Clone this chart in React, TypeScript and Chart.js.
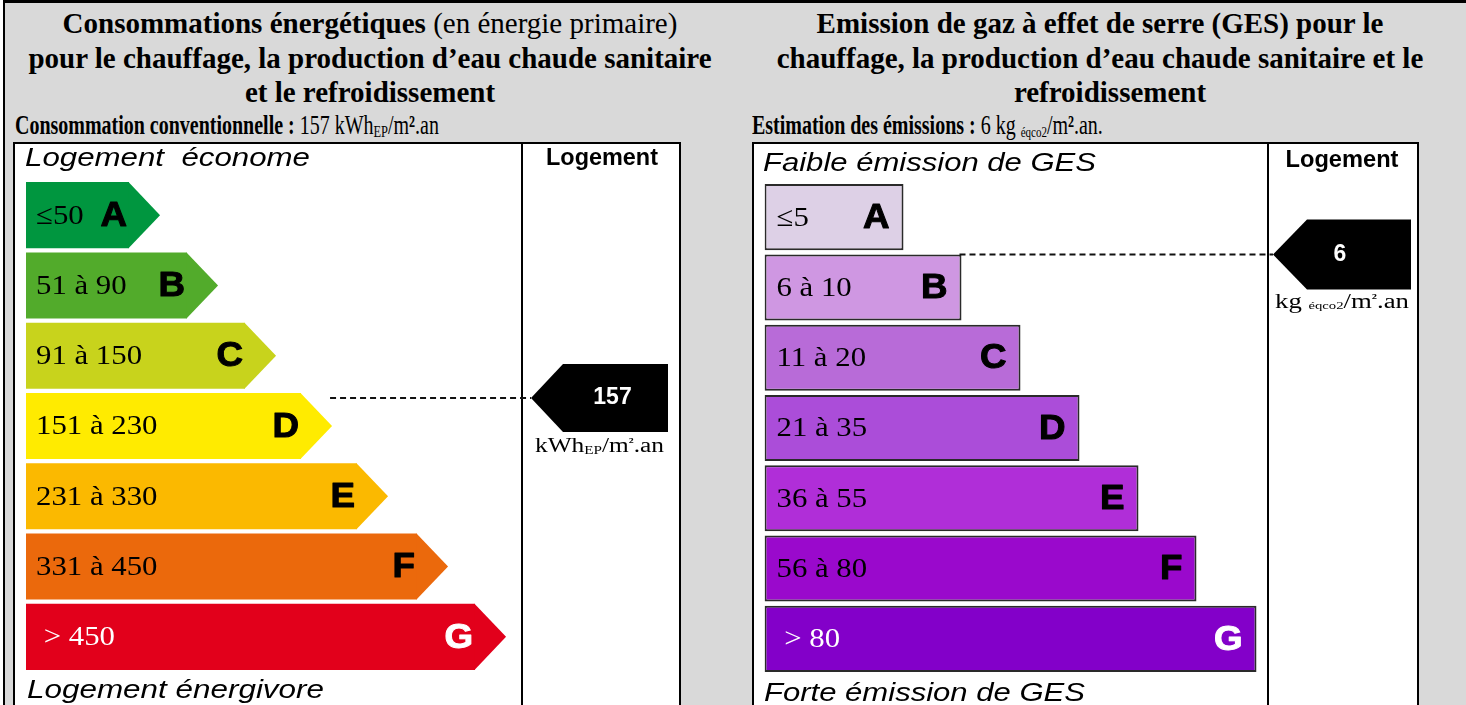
import React, { useEffect, useRef } from 'react';
import { Chart, registerables } from 'chart.js';

Chart.register(...registerables);

// ---------- DATA ----------
const energyClasses = ['A', 'B', 'C', 'D', 'E', 'F', 'G'];
const energyRangeLabels = ['≤50', '51 à 90', '91 à 150', '151 à 230', '231 à 330', '331 à 450', ' > 450'];
const energyLowerBounds = [0, 51, 91, 151, 231, 331, 451];
const energyUpperBounds = [50, 90, 150, 230, 330, 450, 1000];
const energyBarLengths = [103, 161, 219, 275, 331, 391, 449];
const energyColors = ['#00963f', '#52ab2b', '#c8d31c', '#ffeb00', '#fbb900', '#eb690c', '#e2001b'];
const energyValue = 157;

const gesClasses = ['A', 'B', 'C', 'D', 'E', 'F', 'G'];
const gesRangeLabels = ['≤5', '6 à 10', '11 à 20', '21 à 35', '36 à 55', '56 à 80', ' > 80'];
const gesLowerBounds = [0, 6, 11, 21, 36, 56, 81];
const gesUpperBounds = [5, 10, 20, 35, 55, 80, 1000];
const gesBarLengths = [139, 197, 256, 315, 374, 432, 492];
const gesColors = ['#ddd0e6', '#cf97e2', '#b86bd8', '#ab4dd9', '#b02ed8', '#9a09cc', '#8300c9'];
const gesValue = 6;

const textColors = ['#000', '#000', '#000', '#000', '#000', '#000', '#fff'];

// ---------- DRAW HELPERS ----------
type Seg = { t: string; font: string; dy?: number };

function drawSegs(
  ctx: CanvasRenderingContext2D,
  segs: Seg[],
  x: number,
  y: number,
  align: 'left' | 'center' | 'right',
  color: string,
  opts: { sx?: number; width?: number; stroke?: number }
) {
  ctx.save();
  ctx.textBaseline = 'middle';
  ctx.textAlign = 'left';
  let W = 0;
  const ws = segs.map((s) => {
    ctx.font = s.font;
    const w = ctx.measureText(s.t).width;
    W += w;
    return w;
  });
  const k = opts.width ? opts.width / W : opts.sx ?? 1;
  const total = W * k;
  const x0 = align === 'left' ? x : align === 'center' ? x - total / 2 : x - total;
  ctx.translate(x0, y);
  ctx.scale(k, 1);
  ctx.fillStyle = color;
  ctx.strokeStyle = color;
  let cx = 0;
  segs.forEach((s, i) => {
    ctx.font = s.font;
    ctx.fillText(s.t, cx, s.dy ?? 0);
    if (opts.stroke) {
      ctx.lineWidth = opts.stroke;
      ctx.lineJoin = 'round';
      ctx.strokeText(s.t, cx, s.dy ?? 0);
    }
    cx += ws[i];
  });
  ctx.restore();
}

type Panel = {
  id: string;
  classes: string[];
  rangeLabels: string[];
  lower: number[];
  upper: number[];
  lengths: number[];
  colors: string[];
  value: number;
  arrowTips: boolean;
  tipRatio: number;
  borderWidth: number;
  padding: { left: number; right: number; top: number; bottom: number };
  xMax: number;
  labelInset: number;
  letterInset: number;
  topHeader: { text: string; x: number; y: number; w: number };
  bottomHeader: { text: string; x: number; y: number; w: number };
  colHeader: { x: number; y: number; w: number };
  marker: { pointGap: number; tipLen: number; rightGap: number; halfH: number; textDx: number };
  valueText: string;
  unitSegs: Seg[];
  unitWidth: number;
  unitDy: number;
};

const SERIF = '"Liberation Serif", "Times New Roman", serif';
const SANS = '"Liberation Sans", Arial, sans-serif';

const energyPanel: Panel = {
  id: 'energy',
  classes: energyClasses,
  rangeLabels: energyRangeLabels,
  lower: energyLowerBounds,
  upper: energyUpperBounds,
  lengths: energyBarLengths,
  colors: energyColors,
  value: energyValue,
  arrowTips: true,
  tipRatio: 0.47,
  borderWidth: 0,
  padding: { left: 11, right: 157, top: 36, bottom: 33 },
  xMax: 496,
  labelInset: 10,
  letterInset: 2,
  topHeader: { text: 'Logement  économe', x: 10, y: 15, w: 285 },
  bottomHeader: { text: 'Logement énergivore', x: 12, y: 547, w: 297 },
  colHeader: { x: 587, y: 14, w: 112 },
  marker: { pointGap: 9, tipLen: 32, rightGap: 11, halfH: 34, textDx: 13 },
  valueText: String(energyValue),
  unitSegs: [
    { t: 'kWh', font: `20px ${SERIF}` },
    { t: 'EP', font: `12px ${SERIF}`, dy: 4 },
    { t: '/m', font: `20px ${SERIF}` },
    { t: '²', font: `bold 13px ${SERIF}`, dy: -4 },
    { t: '.an', font: `20px ${SERIF}` },
  ],
  unitWidth: 129,
  unitDy: 15,
};

const gesPanel: Panel = {
  id: 'ges',
  classes: gesClasses,
  rangeLabels: gesRangeLabels,
  lower: gesLowerBounds,
  upper: gesUpperBounds,
  lengths: gesBarLengths,
  colors: gesColors,
  value: gesValue,
  arrowTips: false,
  tipRatio: 0,
  borderWidth: 2,
  padding: { left: 10.5, right: 149, top: 38, bottom: 31 },
  xMax: 503.5,
  labelInset: 12,
  letterInset: 14,
  topHeader: { text: 'Faible émission de GES', x: 9, y: 20, w: 333 },
  bottomHeader: { text: 'Forte émission de GES', x: 10, y: 550, w: 321 },
  colHeader: { x: 588, y: 16, w: 113 },
  marker: { pointGap: 5, tipLen: 34, rightGap: 6, halfH: 35, textDx: -2 },
  valueText: String(gesValue),
  unitSegs: [
    { t: 'kg ', font: `20px ${SERIF}` },
    { t: 'éqco2', font: `11px ${SERIF}`, dy: 4 },
    { t: '/m', font: `20px ${SERIF}` },
    { t: '²', font: `bold 13px ${SERIF}`, dy: -4 },
    { t: '.an', font: `20px ${SERIF}` },
  ],
  unitWidth: 134,
  unitDy: 13,
};

function dpePlugin(p: Panel) {
  return {
    id: 'dpe-' + p.id,
    afterDatasetsDraw(chart: any) {
      const ctx: CanvasRenderingContext2D = chart.ctx;
      const meta = chart.getDatasetMeta(0);
      meta.data.forEach((bar: any, i: number) => {
        const { x, y, base, height } = bar.getProps(['x', 'y', 'base', 'height'], true);
        const top = y - height / 2;
        const bottom = y + height / 2;
        if (p.arrowTips) {
          ctx.save();
          ctx.fillStyle = p.colors[i];
          ctx.beginPath();
          ctx.moveTo(x - 0.5, top);
          ctx.lineTo(x + height * p.tipRatio, y);
          ctx.lineTo(x - 0.5, bottom);
          ctx.closePath();
          ctx.fill();
          ctx.restore();
        }
        drawSegs(ctx, [{ t: p.rangeLabels[i], font: `28px ${SERIF}` }], base + p.labelInset, y + 1, 'left', textColors[i], { sx: 1.1 });
        drawSegs(ctx, [{ t: p.classes[i], font: `bold 35px ${SANS}` }], x - p.letterInset, y + 1, 'right', textColors[i], { sx: 1.05, stroke: 1 });
      });
    },
    afterDraw(chart: any) {
      const ctx: CanvasRenderingContext2D = chart.ctx;
      const area = chart.chartArea;
      const W = chart.width;
      const H = chart.height;
      // divider
      ctx.save();
      ctx.strokeStyle = '#000';
      ctx.lineWidth = 2;
      ctx.beginPath();
      ctx.moveTo(area.right, 0);
      ctx.lineTo(area.right, H);
      ctx.stroke();
      ctx.restore();
      // headers
      drawSegs(ctx, [{ t: p.topHeader.text, font: `italic 25px ${SANS}` }], p.topHeader.x, p.topHeader.y, 'left', '#000', { width: p.topHeader.w });
      drawSegs(ctx, [{ t: p.bottomHeader.text, font: `italic 25px ${SANS}` }], p.bottomHeader.x, p.bottomHeader.y, 'left', '#000', { width: p.bottomHeader.w });
      drawSegs(ctx, [{ t: 'Logement', font: `bold 24px ${SANS}` }], p.colHeader.x, p.colHeader.y, 'center', '#000', { width: p.colHeader.w });
      // marker
      let k = p.lower.findIndex((lo, i) => p.value >= lo && p.value <= p.upper[i]);
      if (k < 0) k = p.classes.length - 1;
      const frac = (p.value - p.lower[k]) / (p.upper[k] - p.lower[k]);
      const bar = chart.getDatasetMeta(0).data[k];
      const { x, y, height } = bar.getProps(['x', 'y', 'height'], true);
      const my = y - height / 2 + frac * height;
      const lineStart = x + (p.arrowTips ? height * p.tipRatio : 0) - 2;
      const px = area.right + p.marker.pointGap;
      const bodyL = px + p.marker.tipLen;
      const bodyR = W - p.marker.rightGap;
      const hh = p.marker.halfH;
      ctx.save();
      ctx.strokeStyle = '#111';
      ctx.lineWidth = 2;
      ctx.setLineDash([6, 4]);
      ctx.beginPath();
      ctx.moveTo(lineStart, my);
      ctx.lineTo(px, my);
      ctx.stroke();
      ctx.setLineDash([]);
      ctx.fillStyle = '#000';
      ctx.beginPath();
      ctx.moveTo(px, my);
      ctx.lineTo(bodyL, my - hh);
      ctx.lineTo(bodyR, my - hh);
      ctx.lineTo(bodyR, my + hh);
      ctx.lineTo(bodyL, my + hh);
      ctx.closePath();
      ctx.fill();
      ctx.restore();
      const cx = (px + bodyR) / 2;
      drawSegs(ctx, [{ t: p.valueText, font: `bold 23px ${SANS}` }], cx + p.marker.textDx, my, 'center', '#fff', { sx: 1.0 });
      drawSegs(ctx, p.unitSegs, cx, my + hh + p.unitDy, 'center', '#000', { width: p.unitWidth });
    },
  };
}

function makeConfig(p: Panel): any {
  return {
    type: 'bar',
    data: {
      labels: p.classes,
      datasets: [
        {
          data: p.lengths,
          backgroundColor: p.colors,
          borderColor: '#2a2a2a',
          borderWidth: p.borderWidth,
          borderSkipped: false,
          barPercentage: 0.94,
          categoryPercentage: 1,
        },
      ],
    },
    options: {
      indexAxis: 'y',
      responsive: false,
      maintainAspectRatio: false,
      animation: false,
      layout: { padding: p.padding },
      scales: {
        x: { display: false, min: 0, max: p.xMax },
        y: { display: false },
      },
      plugins: {
        legend: { display: false },
        tooltip: { enabled: false },
      },
    },
    plugins: [dpePlugin(p)],
  };
}

const titleLine: React.CSSProperties = {
  position: 'absolute',
  fontSize: 29,
  lineHeight: '34px',
  textAlign: 'center',
  whiteSpace: 'nowrap',
  fontWeight: 'bold',
};

const infoLine: React.CSSProperties = {
  position: 'absolute',
  fontSize: 27,
  lineHeight: '30px',
  whiteSpace: 'nowrap',
  transform: 'scaleX(0.74)',
  transformOrigin: 'left center',
};

const sub: React.CSSProperties = { fontSize: '0.62em', verticalAlign: '-0.2em' };

export default function App() {
  const leftRef = useRef<HTMLCanvasElement>(null);
  const rightRef = useRef<HTMLCanvasElement>(null);

  useEffect(() => {
    const c1 = new Chart(leftRef.current!, makeConfig(energyPanel));
    const c2 = new Chart(rightRef.current!, makeConfig(gesPanel));
    return () => {
      c1.destroy();
      c2.destroy();
    };
  }, []);

  return (
    <div
      style={{
        position: 'absolute',
        left: 0,
        top: 0,
        width: 1466,
        height: 705,
        background: '#d9d9d9',
        overflow: 'hidden',
        fontFamily: SERIF,
        color: '#000',
      }}
    >
      <div style={{ position: 'absolute', left: 0, top: 0, width: 3, height: 705, background: '#fff' }} />
      <div style={{ position: 'absolute', left: 3, top: 0, width: 1463, height: 3, background: '#000' }} />
      <div style={{ position: 'absolute', left: 3, top: 0, width: 2, height: 705, background: '#000' }} />

      <div style={{ ...titleLine, left: 0, width: 740, top: 6 }}>
        Consommations énergétiques <span style={{ fontWeight: 'normal' }}>(en énergie primaire)</span>
      </div>
      <div style={{ ...titleLine, left: 0, width: 740, top: 41 }}>pour le chauffage, la production d’eau chaude sanitaire</div>
      <div style={{ ...titleLine, left: 0, width: 740, top: 75 }}>et le refroidissement</div>
      <div style={{ ...infoLine, left: 15, top: 110 }}>
        <b>Consommation conventionnelle :</b> 157 kWh<span style={sub}>EP</span>/m<b>²</b>.an
      </div>

      <div style={{ ...titleLine, left: 740, width: 720, top: 6 }}>Emission de gaz à effet de serre (GES) pour le</div>
      <div style={{ ...titleLine, left: 740, width: 720, top: 41 }}>chauffage, la production d’eau chaude sanitaire et le</div>
      <div style={{ ...titleLine, left: 750, width: 720, top: 75 }}>refroidissement</div>
      <div style={{ ...infoLine, left: 752, top: 110 }}>
        <b>Estimation des émissions :</b> 6 kg <span style={{ fontSize: '0.55em', verticalAlign: '-0.2em' }}>éqco2</span>/m<b>²</b>.an.
      </div>

      <div style={{ position: 'absolute', left: 13, top: 142, width: 664, height: 600, border: '2px solid #000', background: '#fff' }} />
      <canvas ref={leftRef} width={664} height={561} style={{ position: 'absolute', left: 15, top: 144 }} />

      <div style={{ position: 'absolute', left: 752, top: 142, width: 663, height: 600, border: '2px solid #000', background: '#fff' }} />
      <canvas ref={rightRef} width={663} height={561} style={{ position: 'absolute', left: 754, top: 144 }} />
    </div>
  );
}
